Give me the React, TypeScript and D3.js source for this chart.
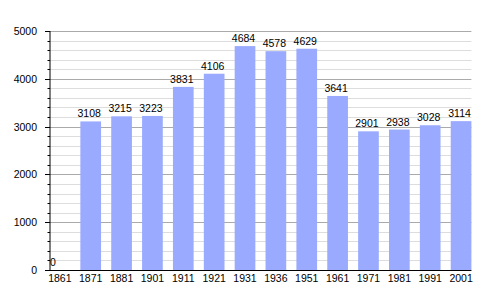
import React from "react";
import * as d3 from "d3";

const years = ["1861","1871","1881","1901","1911","1921","1931","1936","1951","1961","1971","1981","1991","2001"];
const population = [0,3108,3215,3223,3831,4106,4684,4578,4629,3641,2901,2938,3028,3114];
const yMajorTicks = [0,1000,2000,3000,4000,5000];

const W = 500, H = 300;
const left = 49.5, right = 471.4, top = 31, bottom = 270;

export default function App() {
  const x = d3.scaleBand<string>().domain(years).range([left, right]).paddingInner(0.33).paddingOuter(0);
  const y = d3.scaleLinear().domain([0, 5000]).range([bottom, top]);
  const minor = d3.range(0, 5001, 200).filter(v => v % 1000 !== 0);
  const font = "'Liberation Sans', Arial, sans-serif";
  return (
    <svg width={W} height={H} style={{ position: "absolute", left: 0, top: 0, background: "#fff" }} fontFamily={font}>
      {minor.map(v => (
        <line key={"m" + v} x1={left} x2={right} y1={Math.round(y(v)) + 0.5} y2={Math.round(y(v)) + 0.5} stroke="#dddddd" strokeWidth={1} />
      ))}
      {yMajorTicks.map(v => (
        <line key={"g" + v} x1={left} x2={right} y1={Math.round(y(v)) + 0.5} y2={Math.round(y(v)) + 0.5} stroke="#aaaaaa" strokeWidth={1} />
      ))}
      {years.map((yr, i) => (
        <rect key={yr} x={x(yr)} y={y(population[i])} width={x.bandwidth()} height={bottom - y(population[i])} fill="#99aaff" />
      ))}
      {/* axes */}
      <line x1={50} x2={50} y1={top} y2={bottom + 0.5} stroke="#000" strokeWidth={1} />
      <line x1={45} x2={right} y1={bottom + 0.5} y2={bottom + 0.5} stroke="#000" strokeWidth={1} />
      {minor.map(v => (
        <line key={"mt" + v} x1={47.5} x2={50} y1={Math.round(y(v)) + 0.5} y2={Math.round(y(v)) + 0.5} stroke="#000" strokeWidth={1} />
      ))}
      {yMajorTicks.map(v => (
        <g key={"t" + v}>
          <line x1={45} x2={50} y1={Math.round(y(v)) + 0.5} y2={Math.round(y(v)) + 0.5} stroke="#000" strokeWidth={1} />
          <text x={37} y={y(v) + 4} textAnchor="end" fontSize={10.5} fill="#000">{v}</text>
        </g>
      ))}
      {years.map((yr, i) => (
        <text key={"xl" + yr} x={(x(yr) as number) + x.bandwidth() / 2} y={282} textAnchor="middle" fontSize={10.5} fill="#000">{yr}</text>
      ))}
      {years.map((yr, i) => {
        const v = population[i];
        const isZero = v === 0;
        return (
          <text key={"vl" + yr} x={isZero ? (x(yr) as number) + 0.5 : (x(yr) as number) + x.bandwidth() / 2 - 1.5} y={y(v) - 4} textAnchor={isZero ? "start" : "middle"} fontSize={10.5} fill="#000">{v}</text>
        );
      })}
    </svg>
  );
}
